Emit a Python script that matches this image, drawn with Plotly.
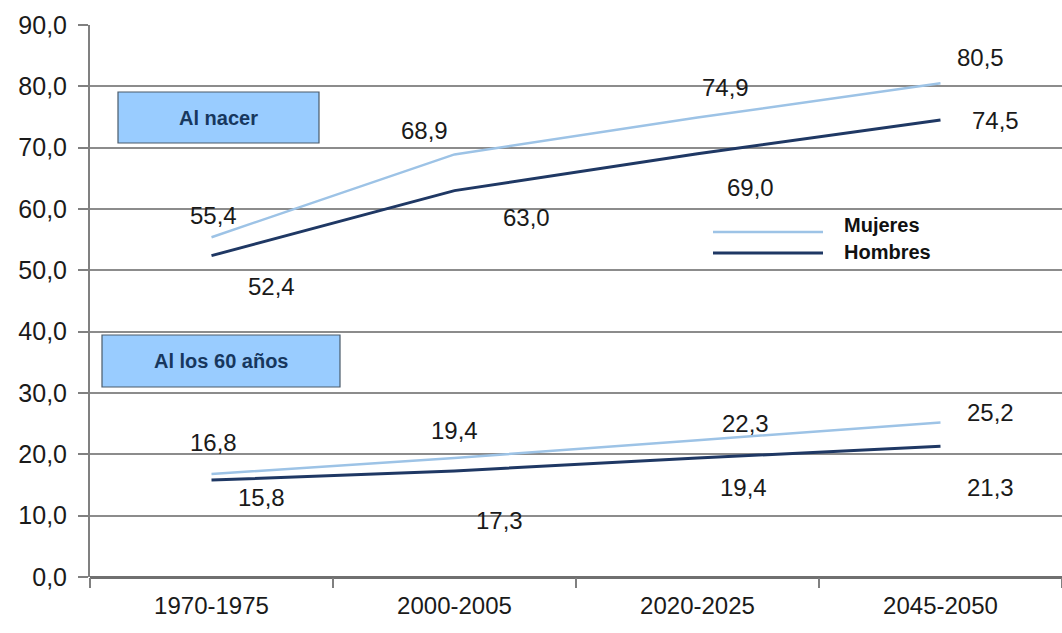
import plotly.graph_objects as go

periods = ["1970-1975", "2000-2005", "2020-2025", "2045-2050"]
mujeres_nacer = [55.4, 68.9, 74.9, 80.5]
hombres_nacer = [52.4, 63.0, 69.0, 74.5]
mujeres_60 = [16.8, 19.4, 22.3, 25.2]
hombres_60 = [15.8, 17.3, 19.4, 21.3]

C_MUJ = "#9DC3E6"
C_HOM = "#1F3864"
FONT = "Liberation Sans, Arial, sans-serif"

W, H = 1062, 633
L, R, T, B = 90, 0, 25, 56
PW, PH = W - L - R, H - T - B


def px(x):
    return (x - L) / PW


def py(y):
    return (H - B - y) / PH


fig = go.Figure()
for ys, col, w in [(mujeres_nacer, C_MUJ, 2.5), (hombres_nacer, C_HOM, 3),
                   (mujeres_60, C_MUJ, 2.5), (hombres_60, C_HOM, 3)]:
    fig.add_trace(go.Scatter(x=periods, y=ys, mode="lines",
                             line=dict(color=col, width=w),
                             showlegend=False, hoverinfo="skip"))

# value labels, offsets in pixels from each point
offsets = {
    "mn": [(2, -22), (-30, -24), (28, -30), (40, -26)],
    "hn": [(60, 31), (72, 27), (53, 34), (55, 0)],
    "m6": [(2, -31), (0, -28), (48, -17), (50, -10)],
    "h6": [(50, 17), (45, 50), (46, 29), (50, 41)],
}
annotations = []
for key, ys in [("mn", mujeres_nacer), ("hn", hombres_nacer),
                ("m6", mujeres_60), ("h6", hombres_60)]:
    for p, v, (dx, dy) in zip(periods, ys, offsets[key]):
        annotations.append(dict(
            x=p, y=v, xref="x", yref="y", text=f"{v:.1f}".replace(".", ","),
            showarrow=False, xshift=dx, yshift=-dy,
            xanchor="center", yanchor="middle",
            font=dict(family=FONT, size=24, color="#1a1a1a")))

shapes = []
# label boxes
for (x0, y0, x1, y1, txt) in [(118, 92, 319, 143, "Al nacer"),
                              (102, 335, 340, 387, "Al los 60 años")]:
    shapes.append(dict(type="rect", xref="paper", yref="paper",
                       x0=px(x0), x1=px(x1), y0=py(y1), y1=py(y0),
                       fillcolor="#99CCFF", line=dict(color="#4A5A6A", width=1.2),
                       layer="above"))
    annotations.append(dict(x=px((x0 + x1) / 2), y=py((y0 + y1) / 2),
                            xref="paper", yref="paper", text=f"<b>{txt}</b>",
                            showarrow=False, xanchor="center", yanchor="middle",
                            font=dict(family=FONT, size=20, color="#17375E")))

# legend
for yy, ty, col, w, name in [(232, 225, C_MUJ, 2.5, "Mujeres"),
                             (253, 252, C_HOM, 3, "Hombres")]:
    shapes.append(dict(type="line", xref="paper", yref="paper",
                       x0=px(713), x1=px(823), y0=py(yy), y1=py(yy),
                       line=dict(color=col, width=w), layer="above"))
    annotations.append(dict(x=px(842), y=py(ty), xref="paper", yref="paper",
                            xanchor="left", yanchor="middle",
                            text=f"<b>{name}</b>", showarrow=False,
                            font=dict(family=FONT, size=20, color="#111111")))

fig.update_layout(
    width=W, height=H,
    margin=dict(l=L, r=R, t=T, b=B),
    paper_bgcolor="white", plot_bgcolor="white",
    separators=",.",
    shapes=shapes, annotations=annotations,
    showlegend=False,
    xaxis=dict(type="category", range=[-0.5, 3.5], showgrid=False,
               ticks="outside", tickson="boundaries", ticklen=10,
               tickcolor="#808080", tickwidth=2,
               showline=False, zeroline=False, ticklabelstandoff=12,
               tickfont=dict(family=FONT, size=24, color="#1a1a1a")),
    yaxis=dict(range=[0, 90], dtick=10, tickformat=".1f",
               showgrid=True, gridcolor="#8C8C8C", gridwidth=2,
               showline=True, linecolor="#808080", linewidth=2,
               ticks="outside", ticklen=10, tickcolor="#808080", tickwidth=2,
               zeroline=True, zerolinecolor="#707070", zerolinewidth=2.5,
               ticklabelstandoff=6,
               tickfont=dict(family=FONT, size=25, color="#1a1a1a")),
)

fig.write_html("out.html")
